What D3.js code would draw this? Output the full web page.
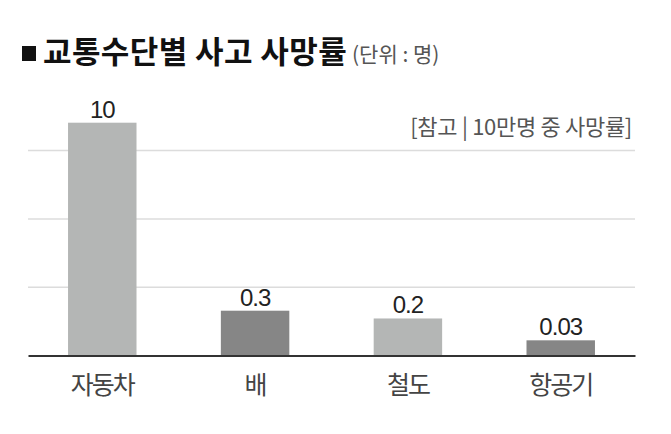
<!doctype html>
<html>
  <meta charset="utf-8">
  <head>
    <script src="https://d3js.org/d3.v7.min.js"></script>
    <style type='text/css'>
      body{ margin:0; background:#fff; }
      text{ font-family:"Noto Sans CJK KR","Noto Sans",sans-serif; }
      .grid line{ stroke:#dcdcdc; stroke-width:1.5; }
      .val{ font-family:"Liberation Sans",Arial,sans-serif; font-size:24px; fill:#222; letter-spacing:-1px; }
      .cat{ font-size:25px; fill:#444; letter-spacing:-2px; }
    </style>
  </head>
  <body>
    <svg id="chart"></svg>
    <script type="text/javascript">
      // data
      var categories = ['자동차','배','철도','항공기'];
      var values = [10, 0.3, 0.2, 0.03];
      var valueLabels = ['10','0.3','0.2','0.03'];
      var barColors = ['#b4b6b5','#868686','#b4b6b5','#868686'];
      var gridSteps = [1,2,3];

      var w = 671, h = 434;
      var left = 28, right = 635, base = 355.5;

      var svg = d3.select('#chart').attr('width',w).attr('height',h);

      // the original scale is compressed, a pow scale comes close
      var xScale = d3.scaleBand().domain(categories).range([left,right])
        .paddingInner(0.552).paddingOuter(0.262);
      var yScale = d3.scalePow().exponent(0.47).domain([0,10]).range([base,122.7]);
      var gridScale = d3.scaleLinear().domain([0,3]).range([base,150.6]);

      // title
      svg.append('rect').attr('x',22).attr('y',46).attr('width',14).attr('height',15).attr('fill','#111');
      svg.append('text').attr('x',43).attr('y',63)
        .style('font-size','31px').style('font-weight',700).style('fill','#111')
        .style('letter-spacing','0.4px')
        .text('교통수단별 사고 사망률');
      svg.append('text').attr('x',352).attr('y',62)
        .style('font-size','21px').style('fill','#555').style('letter-spacing','0px')
        .text('(단위 : 명)');

      svg.append('text').attr('x',632).attr('y',135).attr('text-anchor','end')
        .style('font-size','22px').style('fill','#555').style('letter-spacing','-0.3px')
        .text('[참고 | 10만명 중 사망률]');

      // grid
      svg.append('g').attr('class','grid').selectAll('line').data(gridSteps).enter()
        .append('line').attr('x1',left).attr('x2',right)
        .attr('y1',(d)=>{return gridScale(d);}).attr('y2',(d)=>{return gridScale(d);});

      // bars
      svg.selectAll('rect.bar').data(values).enter()
        .append('rect').attr('class','bar')
        .attr('x',(d,i)=>{return xScale(categories[i]);})
        .attr('width',xScale.bandwidth())
        .attr('y',(d)=>{return yScale(d);})
        .attr('height',(d)=>{return base-yScale(d);})
        .attr('fill',(d,i)=>{return barColors[i];});

      svg.selectAll('text.val').data(values).enter()
        .append('text').attr('class','val').attr('text-anchor','middle')
        .attr('x',(d,i)=>{return xScale(categories[i])+xScale.bandwidth()/2;})
        .attr('y',(d)=>{return yScale(d)-5;})
        .text((d,i)=>{return valueLabels[i];});

      // x axis
      var xAxis = d3.axisBottom(xScale).tickSize(0).tickPadding(0);
      var ax = svg.append('g').attr('transform','translate(0,'+base+')').call(xAxis);
      ax.select('path.domain').attr('stroke','#333').attr('stroke-width',2);
      ax.selectAll('text').attr('class','cat').attr('dy',null).attr('y',38)
        .style('font-family','"Noto Sans CJK KR",sans-serif');
    </script>
  </body>
</html>
